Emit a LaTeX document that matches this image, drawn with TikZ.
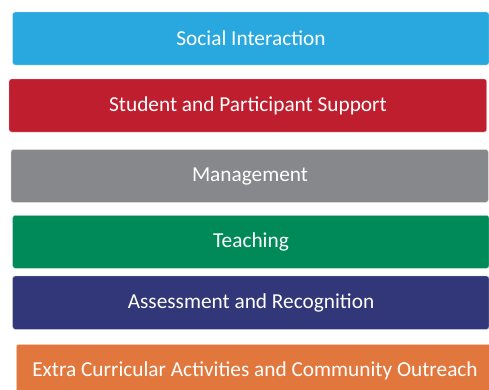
\documentclass[tikz,border=0pt]{standalone}
\usepackage{fontspec}
\setmainfont{Carlito}
\definecolor{cblue}{HTML}{29A8E0}
\definecolor{cred}{HTML}{BE1E2D}
\definecolor{cgray}{HTML}{87888C}
\definecolor{cgreen}{HTML}{008A5A}
\definecolor{cnavy}{HTML}{313778}
\definecolor{corange}{HTML}{E2773D}
\tikzset{
  bar/.style={rounded corners=2.5pt, draw=white!70!#1, line width=0.4pt, fill=#1},
  lbl/.style={text=white, font=\fontsize{21.3}{23}\selectfont, anchor=center, inner sep=0pt}
}
\begin{document}
\begin{tikzpicture}[x=1pt,y=-1pt]
\useasboundingbox (0,0) rectangle (489,389);
\clip (0,0) rectangle (489,389);
\path[bar=cblue]   (12.7,12) rectangle (489,65);
\node[lbl] (t1) at (251,38.5) {Social Interaction};
\path[bar=cred]    (9,79) rectangle (486.7,132);
\node[lbl] (t2) at (248,105.5) {Student and Participant Support};
\path[bar=cgray]   (11,149.5) rectangle (488.3,202.3);
\node[lbl] (t3) at (250,176) {Management};
\path[bar=cgreen]  (12.7,215.3) rectangle (489,268.3);
\node[lbl] (t4) at (251,241.8) {Teaching};
\path[bar=cnavy]   (12.7,276) rectangle (489,329.3);
\node[lbl] (t5) at (251,302.6) {Assessment and Recognition};
\path[bar=corange] (16.3,344.3) rectangle (492,398);
\node[lbl] (t6) at (255,370.5) {Extra Curricular Activities and Community Outreach};
\end{tikzpicture}
\end{document}
